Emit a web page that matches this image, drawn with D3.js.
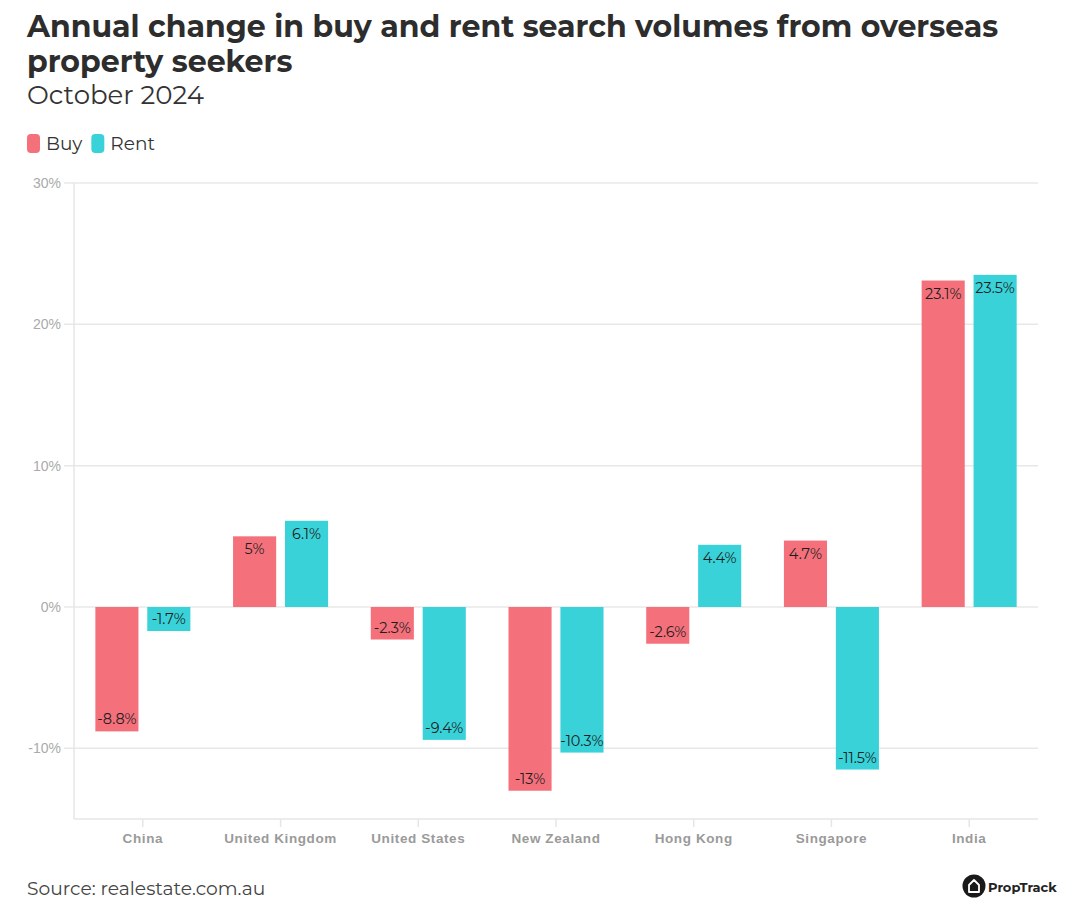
<!DOCTYPE html>
<html><head><meta charset="utf-8">
<script src="https://cdn.jsdelivr.net/npm/d3@7"></script>
<style>
body{margin:0;background:#fff;}
svg{font-family:"Montserrat","Inter","Noto Sans",sans-serif;}
</style></head>
<body>
<svg id="c" width="1080" height="916"></svg>
<script>
const categories = ["China","United Kingdom","United States","New Zealand","Hong Kong","Singapore","India"];
const seriesNames = ["Buy","Rent"];
const buyValues = [-8.8, 5, -2.3, -13, -2.6, 4.7, 23.1];
const rentValues = [-1.7, 6.1, -9.4, -10.3, 4.4, -11.5, 23.5];
const yTicks = [-10, 0, 10, 20, 30];
const colors = {Buy:"#f4717c", Rent:"#38d2d8"};

const svg = d3.select("#c");
const m = {left:74, right:1038, top:183, bottom:819};

const x0 = d3.scaleBand().domain(categories).range([m.left, m.right]).paddingInner(0.31).paddingOuter(0.155);
const x1 = d3.scaleBand().domain(seriesNames).range([0, x0.bandwidth()]).paddingInner(0.17);
const y = d3.scaleLinear().domain([-15, 30]).range([m.bottom, m.top]);

// title
svg.append("text").attr("x",27).attr("y",37).attr("font-size",30).attr("font-weight",700).attr("fill","#2d2d2d")
  .text("Annual change in buy and rent search volumes from overseas");
svg.append("text").attr("x",27).attr("y",72).attr("font-size",30).attr("font-weight",700).attr("fill","#2d2d2d")
  .text("property seekers");
svg.append("text").attr("x",27).attr("y",104).attr("font-size",26).attr("fill","#333")
  .text("October 2024");

// legend
const lg = svg.append("g").attr("transform","translate(27,134)");
let lx = 0;
seriesNames.forEach(s=>{
  lg.append("rect").attr("x",lx).attr("y",0).attr("width",13).attr("height",19).attr("rx",4).attr("fill",colors[s]);
  const t = lg.append("text").attr("x",lx+19).attr("y",15.5).attr("font-size",18.5).attr("fill","#333").text(s);
  lx += 19 + t.node().getComputedTextLength() + 9;
});

// grid
const grid = svg.append("g");
yTicks.forEach(t=>{
  grid.append("line").attr("x1",m.left-10).attr("x2",m.right).attr("y1",y(t)).attr("y2",y(t))
    .attr("stroke","#e8e8e8").attr("stroke-width",1.5);
});
// y axis
const yAxis = d3.axisLeft(y).tickValues(yTicks).tickFormat(d=>d+"%").tickSize(0).tickPadding(13);
const yg = svg.append("g").attr("transform",`translate(${m.left},0)`).call(yAxis);
yg.select(".domain").remove();
yg.selectAll("text").attr("font-size",14).attr("fill","#aaa").attr("font-family","inherit");
svg.append("line").attr("x1",m.left).attr("x2",m.left).attr("y1",m.top).attr("y2",m.bottom).attr("stroke","#e6e6e6").attr("stroke-width",1.5);

// x axis
const xAxis = d3.axisBottom(x0).tickSize(8).tickPadding(6);
const xg = svg.append("g").attr("transform",`translate(0,${m.bottom})`).call(xAxis);
xg.select(".domain").attr("stroke","#e6e6e6").attr("stroke-width",1.5).attr("d",`M${m.left},0H${m.right}`);
xg.selectAll(".tick line").attr("stroke","#e6e6e6").attr("stroke-width",1.5);
xg.selectAll("text").attr("font-size",13.5).attr("letter-spacing","0.6px").attr("font-weight",700).attr("fill","#9a9a9a").attr("font-family","inherit");

// bars
const data = categories.map((c,i)=>({c, vals:[{s:"Buy",v:buyValues[i]},{s:"Rent",v:rentValues[i]}]}));
const g = svg.append("g");
data.forEach(d=>{
  d.vals.forEach(b=>{
    const bx = x0(d.c)+x1(b.s);
    g.append("rect").attr("x",bx).attr("width",x1.bandwidth())
      .attr("y",Math.min(y(b.v),y(0))).attr("height",Math.abs(y(b.v)-y(0)))
      .attr("fill",colors[b.s]);
    g.append("text").attr("x",bx+x1.bandwidth()/2)
      .attr("y", b.v>=0 ? y(b.v)+18 : y(b.v)-7)
      .attr("text-anchor","middle").attr("font-size",14.5).attr("fill","#1e1e1e")
      .text(b.v+"%");
  });
});

// source
svg.append("text").attr("x",27).attr("y",895).attr("font-size",18.7).attr("fill","#444").text("Source: realestate.com.au");
// logo
const lgo = svg.append("g").attr("transform","translate(974,886)");
lgo.append("circle").attr("r",11.5).attr("fill","#1a1a1a");
lgo.append("path").attr("d","M-5,6 V-1 L0,-6 L5,-1 V6 Z").attr("fill","none").attr("stroke","#fff").attr("stroke-width",1.8).attr("stroke-linejoin","round");
lgo.append("text").attr("x",14).attr("y",5.5).attr("font-size",13).attr("font-weight",700).attr("fill","#222").text("PropTrack");
</script>
</body></html>
